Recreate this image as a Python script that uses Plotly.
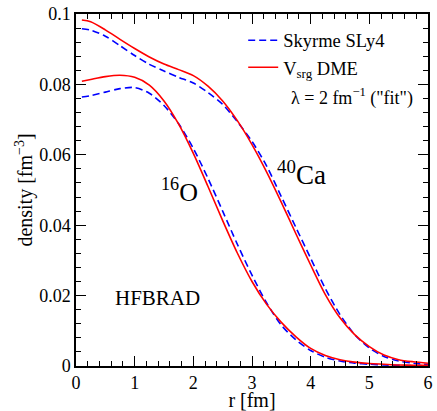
import plotly.graph_objects as go

r = [0.1, 0.25, 0.5, 0.75, 1.0, 1.25, 1.5, 1.75, 2.0, 2.25, 2.5, 2.75, 3.0, 3.25,
     3.5, 3.75, 4.0, 4.25, 4.5, 4.75, 5.0, 5.25, 5.5, 5.75, 6.0]

ca_sly4 = [0.0958, 0.0954, 0.0937, 0.0910, 0.0882, 0.0857, 0.0838, 0.0820, 0.0804,
           0.0777, 0.0743, 0.0694, 0.0638, 0.0568, 0.0481, 0.0393, 0.0306, 0.0220,
           0.0146, 0.0089, 0.0051, 0.0027, 0.0014, 0.0008, 0.0004]
ca_vsrg = [0.0983, 0.0978, 0.0955, 0.0928, 0.0902, 0.0878, 0.0858, 0.0842, 0.0825,
           0.0795, 0.0753, 0.0697, 0.0629, 0.0551, 0.0465, 0.0375, 0.0287, 0.0203,
           0.0137, 0.0089, 0.0055, 0.0031, 0.0018, 0.0012, 0.0008]
o_sly4 = [0.0764, 0.0768, 0.0778, 0.0788, 0.0791, 0.0775, 0.0740, 0.0688, 0.0618,
          0.0533, 0.0440, 0.0346, 0.0258, 0.0179, 0.0116, 0.0074, 0.0044, 0.0025,
          0.0014, 0.0008, 0.0005, 0.0003, 0.0002, 0.0001, 0.0001]
o_vsrg = [0.0809, 0.0814, 0.0822, 0.0826, 0.0820, 0.0798, 0.0753, 0.0687, 0.0604,
          0.0510, 0.0413, 0.0321, 0.0240, 0.0175, 0.0124, 0.0083, 0.0050, 0.0030,
          0.0018, 0.0011, 0.0007, 0.0005, 0.0003, 0.0002, 0.0002]

x_ticks = [0, 1, 2, 3, 4, 5, 6]
x_labels = ["0", "1", "2", "3", "4", "5", "6"]
y_ticks = [0, 0.02, 0.04, 0.06, 0.08, 0.1]
y_labels = ["0", "0.02", "0.04", "0.06", "0.08", "0.1"]

FONT = "Liberation Serif"
BLUE = "#0000ff"
RED = "#ff0000"

fig = go.Figure()
fig.add_trace(go.Scatter(x=r, y=ca_sly4, mode="lines", name="Skyrme SLy4",
                         line=dict(color=BLUE, width=1.6, dash="7px,4px", shape="spline", smoothing=0.8)))
fig.add_trace(go.Scatter(x=r, y=ca_vsrg, mode="lines", name="V<sub>srg</sub> DME",
                         line=dict(color=RED, width=1.6, shape="spline", smoothing=0.8)))
fig.add_trace(go.Scatter(x=r, y=o_sly4, mode="lines", showlegend=False,
                         line=dict(color=BLUE, width=1.6, dash="7px,4px", shape="spline", smoothing=0.8)))
fig.add_trace(go.Scatter(x=r, y=o_vsrg, mode="lines", showlegend=False,
                         line=dict(color=RED, width=1.6, shape="spline", smoothing=0.8)))

axis_common = dict(showline=True, linecolor="black", linewidth=1.5, mirror="ticks",
                   ticks="inside", ticklen=10, tickwidth=1.2, tickcolor="black",
                   showgrid=False, zeroline=False,
                   tickfont=dict(family=FONT, size=18, color="black"))

fig.update_xaxes(range=[0, 6], tickvals=x_ticks, ticktext=x_labels,
                 minor=dict(dtick=0.2, ticks="inside", ticklen=5, tickwidth=1, tickcolor="black"),
                 title=dict(text="r [fm]", font=dict(family=FONT, size=20, color="black"), standoff=0),
                 **axis_common)
fig.update_yaxes(range=[0, 0.1], tickvals=y_ticks, ticktext=y_labels,
                 minor=dict(dtick=0.004, ticks="inside", ticklen=5, tickwidth=1, tickcolor="black"),
                 title=dict(text="density [fm<sup>−3</sup>]", font=dict(family=FONT, size=20, color="black"), standoff=1),
                 **axis_common)

fig.add_annotation(x=1.76, y=0.050, xref="x", yref="y", text="<sup>16</sup>O",
                   showarrow=False, font=dict(family=FONT, size=26, color="black"))
fig.add_annotation(x=3.84, y=0.0547, xref="x", yref="y", text="<sup>40</sup>Ca",
                   showarrow=False, font=dict(family=FONT, size=27, color="black"))
fig.add_annotation(x=1.39, y=0.0192, xref="x", yref="y", text="HFBRAD",
                   showarrow=False, font=dict(family=FONT, size=21, color="black"))
fig.add_annotation(x=0.605, y=0.805, xref="paper", yref="paper", xanchor="left",
                   text="λ = 2 fm<sup>−1</sup> (\"fit\")",
                   showarrow=False, font=dict(family=FONT, size=18, color="black"))

fig.update_layout(
    width=437, height=411,
    margin=dict(l=76, r=4, t=14, b=41),
    plot_bgcolor="white", paper_bgcolor="white",
    font=dict(family=FONT, color="black"),
    legend=dict(x=0.475, y=0.978, xanchor="left", yanchor="top",
                bgcolor="rgba(0,0,0,0)", font=dict(family=FONT, size=18.5, color="black"),
                tracegroupgap=0, itemwidth=30),
)

fig.write_html("out.html", config={"displayModeBar": False},
               post_script="document.body.style.margin='0';")
